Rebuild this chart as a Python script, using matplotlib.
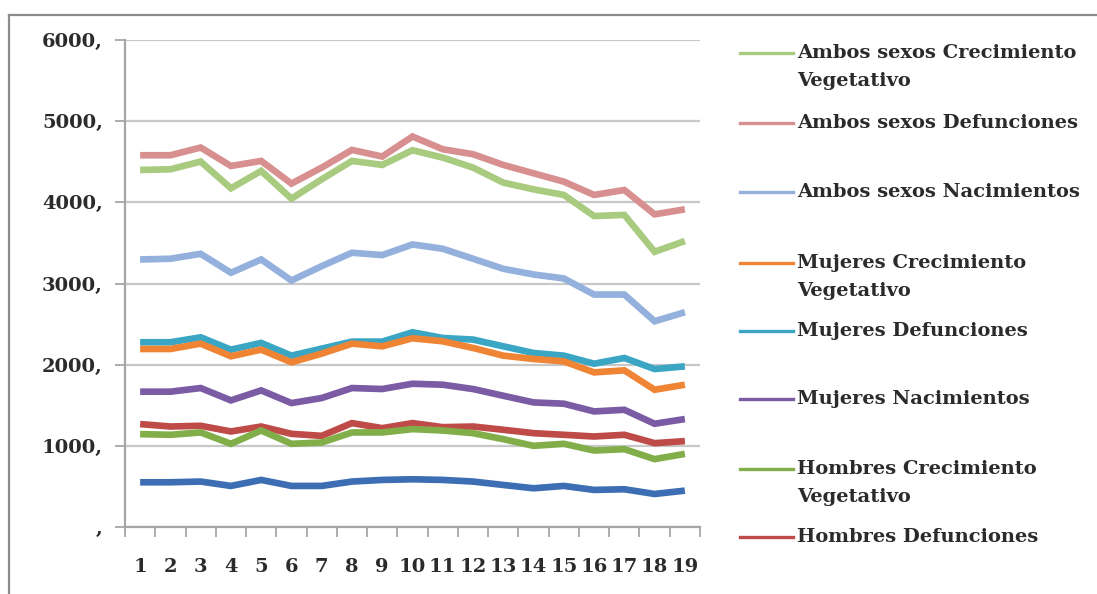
import matplotlib.pyplot as plt
from matplotlib.lines import Line2D
import numpy as np

periodos = list(range(1, 20))

# series en el orden en que Excel las dibuja (la ultima queda encima)
hombres_nac = [551, 551, 560, 506, 580, 506, 506, 560, 580, 588, 580, 560, 518, 477, 506, 457, 465, 407, 448]
hombres_def = [1268, 1238, 1247, 1177, 1238, 1148, 1123, 1280, 1218, 1280, 1230, 1238, 1198, 1156, 1136, 1115, 1136, 1033, 1058]
hombres_cv = [1144, 1136, 1165, 1025, 1189, 1025, 1041, 1165, 1165, 1206, 1189, 1156, 1082, 1000, 1025, 942, 959, 836, 901]
mujeres_nac = [1667, 1667, 1712, 1560, 1683, 1527, 1589, 1712, 1700, 1765, 1753, 1700, 1617, 1535, 1519, 1424, 1444, 1272, 1330]
mujeres_def = [2276, 2276, 2337, 2185, 2268, 2111, 2198, 2284, 2284, 2399, 2329, 2309, 2226, 2144, 2111, 2012, 2082, 1946, 1979]
mujeres_cv = [2193, 2193, 2259, 2103, 2185, 2029, 2136, 2259, 2226, 2325, 2288, 2206, 2111, 2070, 2041, 1905, 1930, 1691, 1753]
ambos_nac = [3296, 3305, 3366, 3132, 3296, 3037, 3214, 3379, 3350, 3481, 3428, 3305, 3181, 3111, 3062, 2864, 2864, 2535, 2646]
ambos_def = [4580, 4580, 4675, 4448, 4510, 4231, 4428, 4646, 4564, 4811, 4654, 4593, 4461, 4358, 4255, 4091, 4152, 3852, 3914]
ambos_cv = [4399, 4407, 4502, 4173, 4387, 4045, 4284, 4510, 4461, 4642, 4551, 4428, 4243, 4160, 4091, 3831, 3845, 3391, 3523]

series = [hombres_nac, hombres_def, hombres_cv, mujeres_nac, mujeres_def, mujeres_cv,
          ambos_nac, ambos_def, ambos_cv]
colores = ['#3D6EB4', '#BE4B48', '#82AE4A', '#7B5BA4', '#3AA6C4', '#EF8534',
           '#93B1DC', '#D7908F', '#A9CB80']

# la leyenda sale recortada: Hombres Nacimientos no aparece
leyenda = ['Ambos sexos Crecimiento\nVegetativo', 'Ambos sexos Defunciones',
           'Ambos sexos Nacimientos', 'Mujeres Crecimiento\nVegetativo',
           'Mujeres Defunciones', 'Mujeres Nacimientos',
           'Hombres Crecimiento\nVegetativo', 'Hombres Defunciones']
leyenda_colores = ['#A9CB80', '#D7908F', '#93B1DC', '#EF8534', '#3AA6C4', '#7B5BA4',
                   '#82AE4A', '#BE4B48']
leyenda_y = [53, 123, 192, 263, 331, 399, 469, 537]

yticks = [0, 1000, 2000, 3000, 4000, 5000, 6000]

W, H = 1097, 594
fig = plt.figure(figsize=(W / 100, H / 100), dpi=100)
ax = fig.add_axes([125 / W, 1 - 527 / H, 575 / W, 487 / H])

fuente = {'family': 'DejaVu Serif', 'weight': 'bold', 'size': 14, 'color': '#2b2b2b'}

for valores, c in zip(series, colores):
    ax.plot(periodos, valores, color=c, lw=4.8, solid_joinstyle='miter', solid_capstyle='butt')

ax.set_xlim(0.5, 19.5)
ax.set_ylim(0, 6000)
ax.set_yticks(yticks)
ax.set_yticklabels([f'{v},' if v else ',' for v in yticks], **fuente)
ax.grid(axis='y', color='#C8C8C8', lw=1.6)
ax.set_axisbelow(True)

ax.set_xticks(np.arange(0.5, 20, 1))
ax.set_xticklabels([])
ax.set_xticks(periodos, minor=True)
ax.set_xticklabels([str(p) for p in periodos], minor=True, **fuente)
ax.tick_params(axis='x', which='major', length=7, width=1.3, color='#A6A6A6')
ax.tick_params(axis='x', which='minor', length=0, pad=22)
ax.tick_params(axis='y', length=7, width=1.3, color='#A6A6A6', pad=9)

for lado in ['top', 'right']:
    ax.spines[lado].set_visible(False)
for lado in ['left', 'bottom']:
    ax.spines[lado].set_color('#A6A6A6')
    ax.spines[lado].set_linewidth(1.6)

# leyenda dibujada a mano para respetar los huecos desiguales de Excel
for texto, c, y in zip(leyenda, leyenda_colores, leyenda_y):
    fy = 1 - y / H
    fig.add_artist(Line2D([740 / W, 793 / W], [fy, fy], color=c, lw=2.4))
    for k, linea in enumerate(texto.split('\n')):
        fig.text(797 / W, 1 - (y + 27.5 * k) / H, linea, va='center', ha='left', **fuente)

# borde del area del grafico (solo se ve arriba y a la izquierda)
fig.add_artist(Line2D([9 / W, 1], [1 - 15 / H, 1 - 15 / H], color='#8C8C8C', lw=1.6))
fig.add_artist(Line2D([9 / W, 9 / W], [0, 1 - 15 / H], color='#8C8C8C', lw=1.6))

fig.savefig('out.png', dpi=100)
